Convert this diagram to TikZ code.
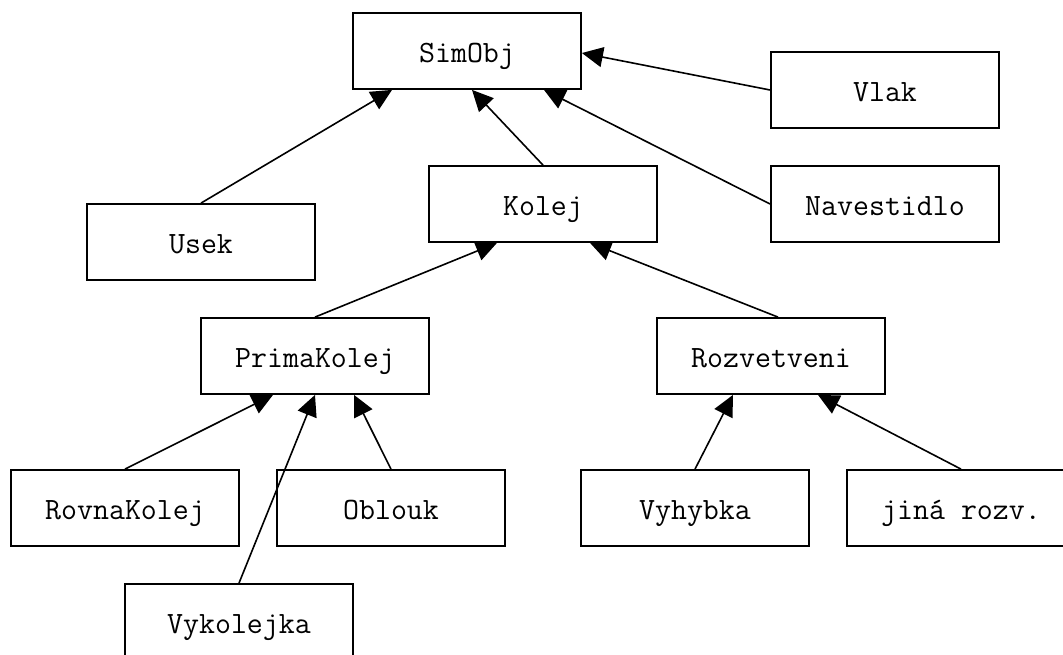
\documentclass[tikz,border=0pt]{standalone}
\usepackage{fontspec}
\usetikzlibrary{arrows.meta}
\tikzset{
  cls/.style={draw, line width=1.8pt, minimum width=228pt, minimum height=76pt,
    inner sep=0pt, text height=23pt, text depth=0pt,
    font=\ttfamily\fontsize{31}{36}\selectfont, fill=white},
  inherit/.style={line width=1.6pt, -{Triangle[length=21pt,width=20pt]}}
}
\begin{document}
\begin{tikzpicture}[x=1pt,y=-1pt]
  \path[use as bounding box, clip] (0,0) rectangle (1063,654);
  \fill[white] (0,0) rectangle (1063,654);

  % class boxes
  \node[cls] (simobj) at (467,51)   {SimObj};
  \node[cls] (vlak)   at (885,90)   {Vlak};
  \node[cls] (kolej)  at (543,204)  {Kolej};
  \node[cls] (navest) at (885,204)  {Navestidlo};
  \node[cls] (usek)   at (201,242)  {Usek};
  \node[cls] (prima)  at (315,356)  {PrimaKolej};
  \node[cls] (rozv)   at (771,356)  {Rozvetveni};
  \node[cls] (rovna)  at (125,508)  {RovnaKolej};
  \node[cls] (oblouk) at (391,508)  {Oblouk};
  \node[cls] (vyhyb)  at (695,508)  {Vyhybka};
  \node[cls] (jina)   at (961,508)  {jiná rozv.};
  \node[cls] (vykol)  at (239,622)  {Vykolejka};

  % inheritance arrows
  \draw[inherit] (usek.north)   -- ([xshift=-75pt]simobj.south);
  \draw[inherit] (kolej.north)  -- ([xshift=5pt]simobj.south);
  \draw[inherit] (navest.west)  -- ([xshift=77pt]simobj.south);
  \draw[inherit] (vlak.west)    -- ([yshift=-2pt]simobj.east);
  \draw[inherit] (prima.north)  -- ([xshift=-46pt]kolej.south);
  \draw[inherit] ([xshift=7pt]rozv.north) -- ([xshift=47pt]kolej.south);
  \draw[inherit] (rovna.north)  -- ([xshift=-42pt]prima.south);
  \draw[inherit] (vykol.north)  -- (prima.south);
  \draw[inherit] (oblouk.north) -- ([xshift=39pt]prima.south);
  \draw[inherit] (vyhyb.north)  -- ([xshift=-38pt]rozv.south);
  \draw[inherit] (jina.north)   -- ([xshift=47pt]rozv.south);
\end{tikzpicture}
\end{document}
